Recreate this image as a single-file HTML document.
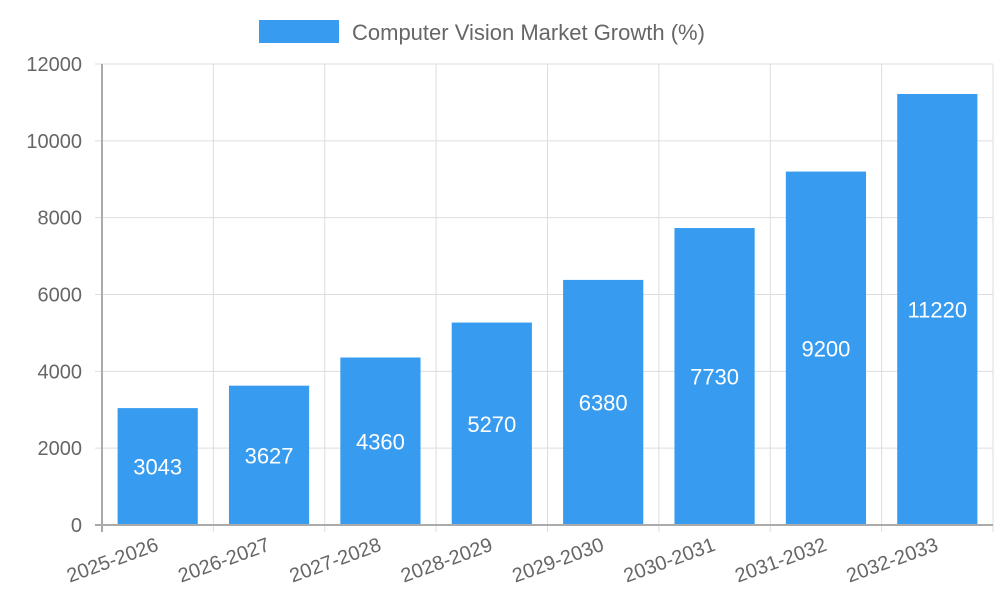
<!DOCTYPE html>
<html><head><meta charset="utf-8"><style>
body{margin:0;background:#fff}
svg{display:block;font-family:"Liberation Sans",sans-serif}
</style></head><body>
<svg id="chart" width="1000" height="600" viewBox="0 0 1000 600">
<g id="grid"></g>
<g id="bars"></g>
<g id="axes"></g>
<g>
<rect x="259" y="20" width="80" height="23" fill="#379cf0"/>
<text x="352" y="40" font-size="22" fill="#666">Computer Vision Market Growth (%)</text>
</g>
</svg>
<script>
const categories=["2025-2026","2026-2027","2027-2028","2028-2029","2029-2030","2030-2031","2031-2032","2032-2033"];
const values=[3043,3627,4360,5270,6380,7730,9200,11220];
const yTicks=[0,2000,4000,6000,8000,10000,12000];
const L=102,R=993,T=64,B=525,yMax=12000;
const ns="http://www.w3.org/2000/svg";
const cw=(R-L)/categories.length;
const y=v=>B-(v/yMax)*(B-T);
const x=i=>L+i*cw;
function mk(tag,attrs,parent,txt){const e=document.createElementNS(ns,tag);for(const k in attrs)e.setAttribute(k,attrs[k]);if(txt!==undefined)e.textContent=txt;document.getElementById(parent).appendChild(e);return e;}
yTicks.forEach(t=>{
 const g=mk("line",{x1:95,x2:R,y1:y(t),y2:y(t),stroke:t===0?"#aaa":"#ddd","stroke-width":t===0?2:1},t===0?"axes":"grid");
 
 
 const tx=mk("text",{x:82,y:y(t)+7,"text-anchor":"end","font-size":20,fill:"#666"},"axes",t);
 
 
});
for(let i=0;i<=categories.length;i++){
 const g=mk("line",{x1:x(i),x2:x(i),y1:T,y2:532,stroke:i===0?"#aaa":"#ddd","stroke-width":i===0?2:1},i===0?"axes":"grid");
 
 
}
const bw=cw*0.72;
categories.forEach((c,i)=>{
 const cx=x(i)+cw/2;
 const r=mk("rect",{x:cx-bw/2,y:y(values[i]),width:bw,height:B-y(values[i]),fill:"#379cf0"},"bars");
 
 
 const v=mk("text",{x:cx,y:(y(values[i])+B)/2+8,"text-anchor":"middle","font-size":22,fill:"#fff"},"bars",values[i]);
 
 
 const l=mk("text",{x:0,y:0,"text-anchor":"end","font-size":20,fill:"#666",transform:`translate(${cx+2},${550}) rotate(-20)`},"axes",c);
 
 
});
</script>
</body></html>
